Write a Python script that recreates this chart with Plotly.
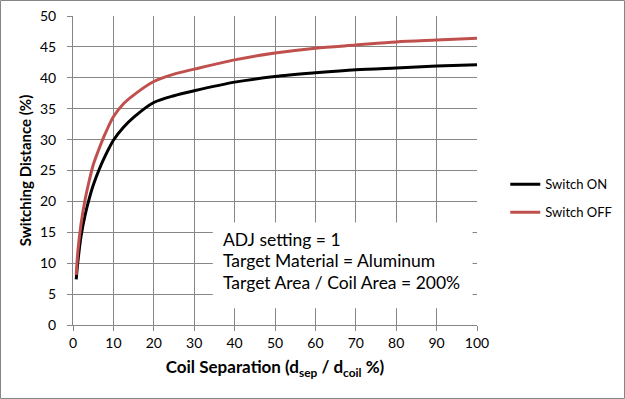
import plotly.graph_objects as go

x_vals = [0.8, 1.2, 2, 3, 4, 5, 6.5, 8, 10, 12.5, 15, 20, 25, 30, 40, 50, 60, 70, 80, 90, 100]
switch_on = [7.4, 10.2, 14.4, 17.8, 20.4, 22.6, 25.2, 27.4, 29.9, 32.0, 33.6, 36.0, 37.1, 37.9, 39.3, 40.2, 40.8, 41.3, 41.6, 41.9, 42.1]
switch_off = [8.1, 11.9, 16.4, 20.3, 23.3, 25.9, 28.6, 31.0, 33.7, 35.8, 37.2, 39.4, 40.6, 41.4, 42.9, 44.0, 44.8, 45.3, 45.8, 46.1, 46.4]
x_ticks = list(range(0, 101, 10))
y_ticks = list(range(0, 51, 5))
note_lines = ["ADJ setting = 1", "Target Material = Aluminum", "Target Area / Coil Area = 200%"]

FONT = "Lato, Carlito, Calibri, sans-serif"
GRID = "#868686"

fig = go.Figure()
fig.add_trace(go.Scatter(x=x_vals, y=switch_on, mode="lines", name="Switch ON",
                         line=dict(color="#000000", width=3, shape="spline", smoothing=0.8),
                         legendgroup="a"))
fig.add_trace(go.Scatter(x=x_vals, y=switch_off, mode="lines", name="Switch OFF",
                         line=dict(color="#C0504D", width=3, shape="spline", smoothing=0.8),
                         legendgroup="b"))

fig.update_layout(
    width=625, height=399,
    margin=dict(l=73, r=148, t=16, b=74, autoexpand=False),
    paper_bgcolor="white", plot_bgcolor="white",
    font=dict(family=FONT, size=14, color="#000000"),
    showlegend=True,
    legend=dict(x=1.07, y=0.41, xanchor="left", yanchor="middle",
                font=dict(family=FONT, size=13), tracegroupgap=8,
                traceorder="grouped", itemwidth=30, bgcolor="rgba(0,0,0,0)"),
    xaxis=dict(range=[0, 100], tickvals=x_ticks, showgrid=True, gridcolor=GRID, gridwidth=1,
               showline=True, linecolor=GRID, linewidth=1, ticks="outside", ticklen=5,
               tickcolor=GRID, zeroline=False, tickfont=dict(size=14), automargin=False,
               title=dict(text="<b>Coil Separation (d<sub>sep</sub> / d<sub>coil</sub> %)</b>",
                          font=dict(size=17), standoff=11)),
    yaxis=dict(range=[0, 50], tickvals=y_ticks, showgrid=True, gridcolor=GRID, gridwidth=1,
               showline=True, linecolor=GRID, linewidth=1, ticks="outside", ticklen=5,
               tickcolor=GRID, zeroline=False, tickfont=dict(size=14), automargin=False,
               ticklabelstandoff=8,
               title=dict(text="<b>Switching Distance (%)</b>", font=dict(size=15), standoff=4)),
)

# white note box over the gridlines
fig.add_shape(type="rect", xref="x", yref="y", x0=34.6, x1=98.9, y0=2.7, y1=16.6,
              fillcolor="white", line=dict(width=0), layer="between")
for i, t in enumerate(note_lines):
    fig.add_annotation(xref="x", yref="y", x=36.6, y=13.9 - i * 3.5, text=t, showarrow=False,
                       xanchor="left", yanchor="middle", font=dict(family=FONT, size=17.5))

# chart border
fig.add_shape(type="rect", xref="paper", yref="paper",
              x0=(0.5 - 73) / 404, x1=(624.5 - 73) / 404,
              y0=(325 - 398.5) / 309, y1=(325 - 0.5) / 309,
              line=dict(color=GRID, width=1), fillcolor="rgba(0,0,0,0)", layer="above")

fig.write_html("out.html", config={"displayModeBar": False},
               post_script="document.body.style.margin='0';document.body.style.overflow='hidden';")
